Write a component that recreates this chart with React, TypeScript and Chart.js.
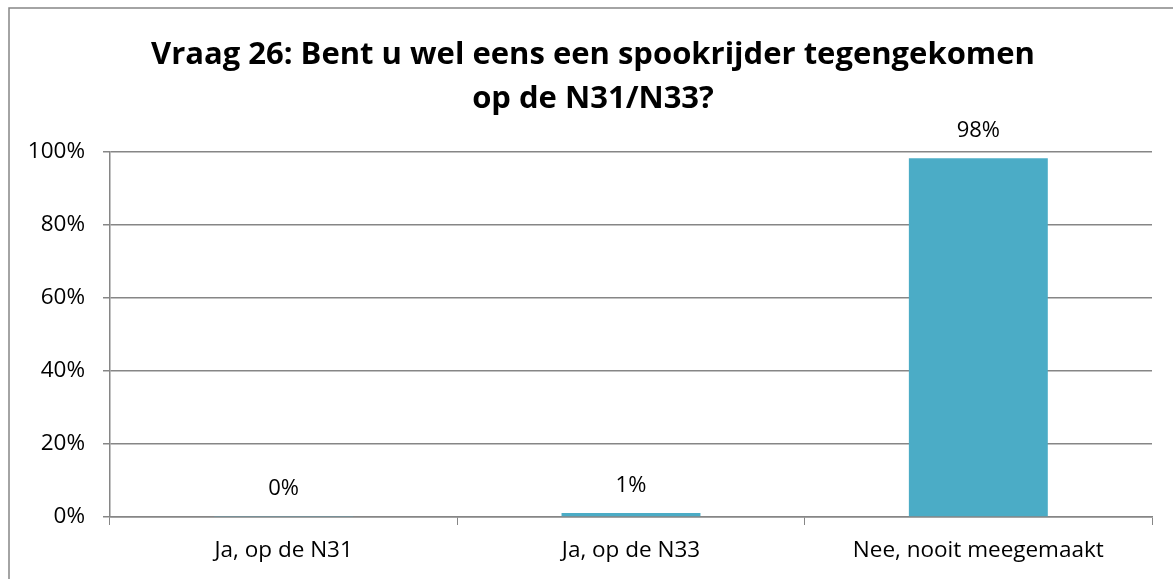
import React, { useEffect, useRef } from "react";
import { Chart, registerables } from "chart.js";

Chart.register(...registerables);

const categories = ["Ja, op de N31", "Ja, op de N33", "Nee, nooit meegemaakt"];
const values = [0.3, 1.1, 98.3];
const titleLines = ["Vraag 26: Bent u wel eens een spookrijder tegengekomen", "op de N31/N33?"];

const FONT = "'Open Sans', Lato, sans-serif";

const extras = {
  id: "extras",
  afterDraw(chart: any) {
    const ctx = chart.ctx;
    ctx.save();
    // frame (left and top edges visible in the cropped original)
    ctx.strokeStyle = "#868686";
    ctx.lineWidth = 1.5;
    ctx.beginPath();
    ctx.moveTo(9, chart.height);
    ctx.lineTo(9, 8);
    ctx.lineTo(chart.width, 8);
    ctx.stroke();
    // title
    ctx.fillStyle = "#000";
    ctx.font = `bold 31px ${FONT}`;
    ctx.textAlign = "center";
    ctx.textBaseline = "alphabetic";
    titleLines.forEach((line, i) => ctx.fillText(line, 593, 64 + i * 44));
    // data labels
    const meta = chart.getDatasetMeta(0);
    ctx.font = `22px ${FONT}`;
    ctx.textBaseline = "middle";
    meta.data.forEach((bar: any, i: number) => {
      ctx.fillText(`${Math.round(values[i])}%`, bar.x, bar.y - 27);
    });
    ctx.restore();
  },
};

export default function App() {
  const ref = useRef<HTMLCanvasElement>(null);
  useEffect(() => {
    document.body.style.margin = "0";
    const chart = new Chart(ref.current!, {
      type: "bar",
      data: {
        labels: categories,
        datasets: [
          {
            data: values,
            backgroundColor: "#4BACC6",
            categoryPercentage: 1,
            barPercentage: 0.4,
          },
        ],
      },
      options: {
        responsive: false,
        animation: false,
        layout: { padding: { left: 0, right: 21, top: 152, bottom: 0 } },
        plugins: {
          legend: { display: false },
          tooltip: { enabled: false },
          title: { display: false },
        },
        scales: {
          x: {
            grid: {
              display: true,
              drawOnChartArea: false,
              drawTicks: true,
              tickLength: 8,
              color: "#868686",
              offset: true,
            },
            border: { color: "#868686", width: 1.5 },
            ticks: { color: "#000", font: { family: FONT, size: 22.5 }, padding: 12 },
            afterFit(scale: any) {
              scale.height = 62;
            },
          },
          y: {
            min: 0,
            max: 100,
            ticks: {
              stepSize: 20,
              color: "#000",
              font: { family: FONT, size: 22.5 },
              padding: 18,
              callback: (v: any) => `${v}%`,
            },
            grid: { color: "#868686", lineWidth: 1.5, tickLength: 7 },
            border: { color: "#868686", width: 1.5 },
            afterFit(scale: any) {
              scale.width = 110;
            },
          },
        },
      },
      plugins: [extras],
    });
    return () => chart.destroy();
  }, []);
  return <canvas ref={ref} width={1173} height={579} />;
}
